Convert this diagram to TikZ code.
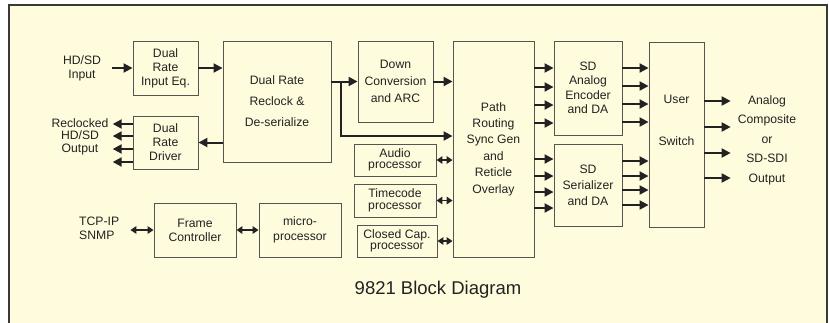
\documentclass[tikz,border=0pt]{standalone}
\usepackage{fontspec}
\setmainfont{Liberation Sans}
\usetikzlibrary{arrows.meta}

\definecolor{paper}{RGB}{255,252,221}
\definecolor{edge}{RGB}{85,85,85}
\definecolor{ink}{RGB}{34,34,34}
\newcommand\boxfont[1]{\fontsize{12.2}{#1}\selectfont}

\begin{document}
\begin{tikzpicture}[x=1pt,y=-1pt,
  blk/.style={draw=edge,line width=0.9pt,fill=paper,align=center,text=ink,inner sep=0pt,font=\boxfont{14}},
  txt/.style={align=center,text=ink,font=\boxfont{14}},
  arr/.style={draw=ink,line width=2pt,-{Triangle[length=9pt,width=9pt]}},
  darr/.style={draw=ink,line width=1.6pt,{Triangle[length=6pt,width=7.5pt]}-{Triangle[length=6pt,width=7.5pt]}}]
\useasboundingbox (0,0) rectangle (829,322);
\clip (0,0) rectangle (829,322);
% outer panel
\draw[draw=ink!90,line width=2pt,fill=paper] (9,5) rectangle (827,340);

% input side
\node[txt] (in) at (82,68) {HD/SD\\Input};
\node[blk,minimum width=65pt,minimum height=54pt] (eq) at (165.5,68) {Dual\\Rate\\Input Eq.};
\node[blk,minimum width=65pt,minimum height=53pt] (drv) at (165.5,142.5) {Dual\\Rate\\Driver};
\node[txt,font=\boxfont{12.5},inner sep=4pt] (outl) at (80,136.5) {Reclocked\\HD/SD\\Output};
\node[blk,minimum width=108pt,minimum height=121pt,font=\boxfont{21}] (rcl) at (277,101.5) {Dual Rate\\Reclock \&\\De-serialize};

% processing
\node[blk,minimum width=75pt,minimum height=81pt,font=\boxfont{17}] (dwn) at (395.5,81.5) {Down\\Conversion\\and ARC};
\node[blk,minimum width=82pt,minimum height=32pt,font=\boxfont{11.5}] (aud) at (395,160) {Audio\\processor};
\node[blk,minimum width=82pt,minimum height=33pt,font=\boxfont{11.5}] (tc) at (395,200.5) {Timecode\\processor};
\node[blk,minimum width=80pt,minimum height=32pt,font=\boxfont{11.5}] (cc) at (397,241) {Closed Cap.\\processor};
\node[blk,minimum width=81pt,minimum height=216pt,font=\boxfont{16.4}] (path) at (493.5,149) {Path\\Routing\\Sync Gen\\and\\Reticle\\Overlay};

% output side
\node[blk,minimum width=68pt,minimum height=94pt,font=\boxfont{14.5}] (ana) at (588,88) {SD\\Analog\\Encoder\\and DA};
\node[blk,minimum width=68pt,minimum height=82pt,font=\boxfont{16}] (ser) at (588,185) {SD\\Serializer\\and DA};
\node[blk,minimum width=55pt,minimum height=185pt] (usr) at (676.5,134.5) {};
\node[txt] (usrtxt) at (676.5,120) {User\\[28pt]Switch};
\node[txt,font=\boxfont{19.5},inner xsep=7pt] (aout) at (767,140) {Analog\\Composite\\or\\SD-SDI\\Output};

% control
\node[txt,align=left,anchor=west,inner sep=4pt] (tcp) at (75,228) {TCP-IP\\SNMP};
\node[blk,minimum width=82pt,minimum height=54pt] (frm) at (195,230) {Frame\\Controller};
\node[blk,minimum width=82pt,minimum height=54pt,font=\boxfont{15}] (mic) at (300,230) {micro-\\processor};

\node[text=ink,font=\fontsize{18.5}{22}\selectfont] (title) at (438,290) {9821 Block Diagram};

% connectors
\draw[arr,shorten <=7pt] (in.east) -- (eq.west);
\draw[arr] (eq.east) -- (eq.east -| rcl.west);
\draw[arr] (drv.east -| rcl.west) -- (drv.east);
\foreach \y in {124,136,149,162}
  \draw[arr] (drv.west |- 0,\y) -- (outl.east |- 0,\y);
\draw[arr] (dwn.west -| rcl.east) -- (dwn.west);
\coordinate (br) at (341,81.5);
\draw[arr] (br) |- (path.west |- 0,136);
\draw[arr] (dwn.east) -- (dwn.east -| path.west);
\foreach \n in {aud,tc,cc}
  \draw[darr] (\n.east) -- (\n.east -| path.west);
\foreach \y in {68,87,105,123}
  \draw[arr] (path.east |- 0,\y) -- (ana.west |- 0,\y);
\foreach \y in {159,176,192,208}
  \draw[arr] (path.east |- 0,\y) -- (ser.west |- 0,\y);
\foreach \y in {68,86,104,122}
  \draw[arr] (ana.east |- 0,\y) -- (usr.west |- 0,\y);
\foreach \y in {161,176,190,205}
  \draw[arr] (ser.east |- 0,\y) -- (usr.west |- 0,\y);
\foreach \y in {101,127,153,178}
  \draw[arr] (usr.east |- 0,\y) -- (aout.west |- 0,\y);
\draw[darr,shorten <=7pt] (tcp.east |- frm.west) -- (frm.west);
\draw[darr] (frm.east) -- (mic.west);
\end{tikzpicture}
\end{document}
